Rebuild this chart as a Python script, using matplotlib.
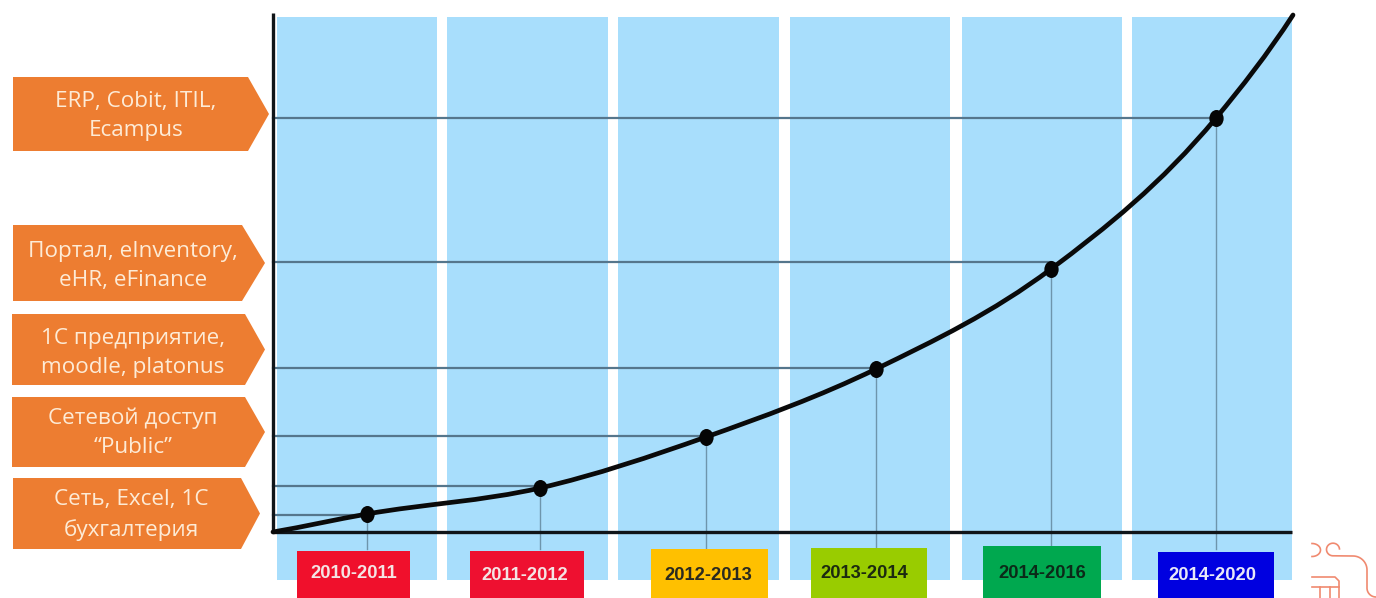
import matplotlib
matplotlib.use("Agg")
import matplotlib.pyplot as plt
import numpy as np
from matplotlib.path import Path
from matplotlib.patches import PathPatch, Polygon, Rectangle
from matplotlib.transforms import Affine2D

# ---- data -----------------------------------------------------------
periods = ["2010-2011", "2011-2012", "2012-2013", "2013-2014", "2014-2016", "2014-2020"]
point_x = [94, 267, 433, 603, 778, 943]
point_y = [18, 44, 95, 163, 263, 414]
guide_y = [17, 46, 96, 164, 270, 414]
curve_x = [0, 94, 267, 433, 603, 778, 943, 1020]
curve_y = [0, 18, 44, 95, 163, 263, 414, 517]
column_left = [4, 174, 345, 517, 689, 859]
column_right = [164, 335, 506, 677, 849, 1019]
column_bottom = -48
column_top = 515
labels = ["ERP, Cobit, ITIL,\nEcampus",
          "Портал, eInventory,\neHR, eFinance",
          "1С предприятие,\nmoodle, platonus",
          "Сетевой доступ\n“Public”",
          "Сеть, Excel, 1С\nбухгалтерия"]
period_colors = ["#F0102C", "#EE1030", "#FFC000", "#99CC00", "#00A84F", "#0000E0"]

# ---- layout ---------------------------------------------------------
W, H = 1376, 598
fig = plt.figure(figsize=(W / 100, H / 100), dpi=100, facecolor="white")
ax = fig.add_axes([273 / W, 1 - 532 / H, 1020 / W, 517 / H])
ax.set_xlim(0, 1020)
ax.set_ylim(0, 517)
ax.axis("off")
px = Affine2D().scale(1 / W, -1 / H).translate(0, 1) + fig.transFigure

# columns
ax.bar(column_left, column_top - column_bottom, bottom=column_bottom,
       width=np.array(column_right) - np.array(column_left), align="edge",
       color="#A8DEFC", linewidth=0, clip_on=False, zorder=1)

# guide lines
for x, y, g in zip(point_x, point_y, guide_y):
    ax.plot([0, x], [g, g], color="#55768C", lw=1.6, zorder=2, clip_on=False)
    ax.plot([x, x], [-17, y], color="#6E95AC", lw=1.0, zorder=2, clip_on=False)

# axes lines
ax.plot([0, 0], [0, 519], color="#101418", lw=2.4, zorder=4, clip_on=False,
        solid_capstyle="butt")
ax.plot([0, 1019], [0, 0], color="#101418", lw=2.4, zorder=4, clip_on=False,
        solid_capstyle="butt")

# growth curve: cubic segments through the read values, tangents weighted by spacing
P = np.column_stack([curve_x, curve_y]).astype(float)
dx = np.diff(P[:, 0])
sl = np.diff(P[:, 1]) / dx
m = np.zeros(len(P))
m[1:-1] = (sl[:-1] * dx[1:] + sl[1:] * dx[:-1]) / (dx[:-1] + dx[1:])
m[0] = sl[0] * 0.9
m[-1] = sl[-1] * 1.15
verts = [P[0]]
codes = [Path.MOVETO]
for i in range(len(P) - 1):
    d = dx[i] / 3
    verts += [P[i] + [d, m[i] * d], P[i + 1] - [d, m[i + 1] * d], P[i + 1]]
    codes += [Path.CURVE4] * 3
ax.add_patch(PathPatch(Path(verts, codes), fill=False, ec="#0A0A0A", lw=3.4,
                       zorder=5, clip_on=False, capstyle="round"))

# points, slightly taller than wide
oval = Path(Path.unit_circle().vertices * np.array([0.84, 1.0]), Path.unit_circle().codes)
ax.scatter(point_x, point_y, s=150, marker=oval, color="#050505", linewidth=0,
           zorder=6, clip_on=False)

# left arrows
arrows = [(13, 248, 269, 77, 151, 136, 116),
          (13, 242, 265, 225, 301, 133, 266),
          (12, 245, 265, 314, 385, 133, 353),
          (12, 245, 265, 397, 467, 133, 433),
          (13, 241, 260, 478, 549, 131, 515)]
for (x0, x1, tip, top, bot, tx, ty), lab in zip(arrows, labels):
    ax.add_patch(Polygon([(x0, top), (x1, top), (tip, (top + bot) / 2), (x1, bot), (x0, bot)],
                         closed=True, fc="#ED7D31", ec="none", transform=px,
                         clip_on=False, zorder=3))
    ax.text(tx, ty, lab, transform=px, ha="center", va="center", color="#FDEBD6",
            fontsize=16.2, family="Open Sans", linespacing=1.52, zorder=7, clip_on=False)

# period boxes
boxes = [(297, 410, 551, 598, 354, 574), (470, 584, 551, 598, 525, 576),
         (651, 768, 549, 598, 708, 575), (811, 927, 548, 598, 864, 574),
         (983, 1101, 546, 598, 1042, 574), (1158, 1274, 552, 598, 1212, 575)]
text_cols = ["#F4E4E4", "#F4E4E4", "#2A2A20", "#1C2A10", "#0B2A18", "#E8E8F8"]
for (x0, x1, top, bot, tx, ty), p, c, tc in zip(boxes, periods, period_colors, text_cols):
    ax.add_patch(Rectangle((x0, top), x1 - x0, bot - top, fc=c, ec="none", transform=px,
                           clip_on=False, zorder=7))
    ax.text(tx, ty, p, transform=px, ha="center", va="center", color=tc, fontsize=13.2,
            fontweight="bold", family="Liberation Sans", zorder=8, clip_on=False)

# decorative fragment, bottom right
deco = "#F08A70"
def dline(xs, ys):
    ax.plot(xs, ys, color=deco, lw=1.2, transform=px, clip_on=False, zorder=3)

t = np.linspace(-np.pi * 0.5, np.pi * 0.5, 30)
dline(1312 + 8.5 * np.cos(t), 550 + 6.5 * np.sin(t))
t = np.linspace(-0.1, -np.pi * 1.5, 40)
hook_x = 1333 + 6.5 * np.cos(t)
hook_y = 549.5 + 6.3 * np.sin(t)
t2 = np.linspace(0, np.pi / 2, 20)
bend_x = 1353 + 14 * np.sin(t2)
bend_y = 570 - 14 * np.cos(t2)
t3 = np.linspace(np.pi, np.pi * 1.5, 20)
tail_x = 1376 + 9 * np.cos(t3)
tail_y = 588 - 9 * np.sin(t3)
dline(np.r_[hook_x, bend_x, tail_x], np.r_[hook_y, bend_y, tail_y])
dline([1312, 1335, 1339, 1339], [577, 577, 581, 598])
dline([1312, 1339], [587, 587])
for x in (1320, 1330):
    dline([x, x], [587, 598])

fig.savefig("out.png", dpi=100, facecolor="white")
